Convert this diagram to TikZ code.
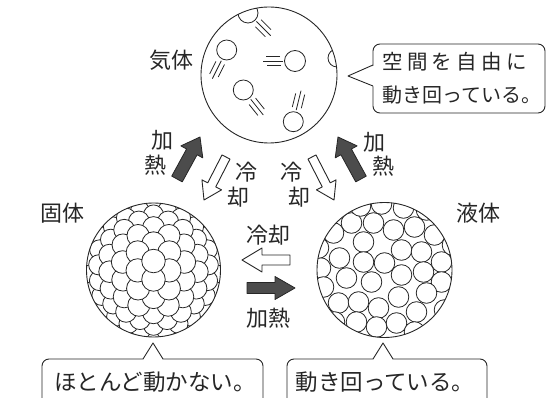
\documentclass[tikz,border=0pt]{standalone}
\usepackage{fontspec}
\setmainfont{Noto Sans CJK JP}
\begin{document}
\begin{tikzpicture}[x=1pt,y=-1pt,line join=round,
  ink/.style={draw=black!85,line width=0.9},
  ball/.style={ink,fill=white,line width=0.8},
  phase/.style={circle,ink,inner sep=0,minimum size=#1},
  lbl/.style={font=\fontsize{22}{22}\selectfont,text=black!85,inner sep=0},
  say/.style={font=\fontsize{22.5}{22.5}\selectfont,text=black!85,inner sep=0},
  heat/.style={fill=black!70,draw=black!85,line width=0.8},
  cool/.style={fill=white,draw=black!85,line width=0.9},
  speed/.style={draw=black!85,line width=0.8},
  pics/blockarrow/.style n args={4}{code={
    \path[pic actions] (0,-#2) -- ({#1-#4},-#2) -- ({#1-#4},-#3) -- (#1,0)
      -- ({#1-#4},#3) -- ({#1-#4},#2) -- (0,#2) -- cycle;}}]
\useasboundingbox (0,0) rectangle (550,398);

% ---------- gas ----------
\begin{scope}
  \clip (269,75) circle (68);
  \foreach \cx/\cy/\r in {248/13/10, 226.7/50/10, 295/61/10.5, 243.3/90/10, 293.3/121.7/10, 337/58/9}
    \filldraw[ball] (\cx,\cy) circle (\r);
  % speed lines trailing each molecule
  \foreach \cx/\cy/\a in {248/13/-45, 226.7/50/-116.6, 295/61/180, 243.3/90/-51.3, 293.3/121.7/76}{
    \begin{scope}[shift={(\cx,\cy)},rotate=\a]
      \draw[speed] (14,-4.5) -- (28,-4.5);
      \draw[speed] (12,0) -- (32,0);
      \draw[speed] (15,4.5) -- (29,4.5);
    \end{scope}}
\end{scope}
\node[phase=136] (gas) at (269,75) {};

% ---------- solid: close-packed balls on a sphere ----------
\begin{scope}
  \clip (153.5,270) circle (67);
  \foreach \n in {40,39,...,0}{
    \foreach \i in {-8,...,8}{
      \foreach \j in {-8,...,8}{
        \ifnum\numexpr\i*\i+\i*\j+\j*\j\relax=\n\relax
          \pgfmathsetmacro\ph{18.5*sqrt(\n)/67*57.29578}
          \pgfmathsetmacro\sfac{sin(\ph)/sqrt(max(\n,1))}
          \pgfmathsetmacro\bx{\sfac*(\j*0.8660254)}
          \pgfmathsetmacro\by{\sfac*(\i+\j/2)}
          \pgfmathsetmacro\bz{cos(\ph)}
          \pgfmathsetmacro\byp{\by*cos(7.7)-\bz*sin(7.7)}
          \pgfmathsetmacro\bzp{\by*sin(7.7)+\bz*cos(7.7)}
          \ifdim\bzp pt>-0.2pt
            \filldraw[ball] ({153.5+67*\bx},{270+67*\byp}) circle ({7.8+4*\bzp});
          \fi
        \fi}}}
\end{scope}
\node[phase=134] (solid) at (153.5,270) {};

% ---------- liquid ----------
\begin{scope}
  \clip (384.5,270) circle (67.5);
  \foreach \dx/\dy in {-33/-47,-11/-47,9/-40,30/-43,50/-35,-21/-28,17/-20,37/-18,
      57/-8,-45/-12,-21/-8,0/-7,-64/-2,-38/8,-13/12,17/5,39/2,57/12,-46/33,
      -26/32,-6/38,14/27,42/23,32/42,12/53,-8/57,-28/52,60/40,-61/17,
      -24/-64,-3/-66,19/-62,42/-60,-51/-37,-66/-22,-50/52,30/62,68/-25}
    \filldraw[ball] ({384.5+\dx},{270+\dy}) circle (10.3);
\end{scope}
\node[phase=135] (liquid) at (384.5,270) {};

% ---------- phase names ----------
\node[lbl] (tgas) at (171,60) {気体};
\node[lbl] (tsolid) at (63,213) {固体};
\node[lbl] (tliquid) at (478,213) {液体};

% ---------- heating / cooling arrows ----------
\pic[heat,rotate=61.3] (hl) at (177,179) {blockarrow={47.9}{6}{12.5}{17}};
\pic[heat,rotate=118.7] (hr) at (361,179) {blockarrow={47.9}{6}{12.5}{17}};
\pic[cool,rotate=-117.1] (cl) at (226,157) {blockarrow={48.3}{4.5}{11}{17}};
\pic[cool,rotate=-62.9] (cr) at (312,157) {blockarrow={48.3}{4.5}{11}{17}};
\pic[cool,rotate=180] (cm) at (290,260) {blockarrow={48}{5}{12}{20}};
\pic[heat] (hm) at (247,288) {blockarrow={48}{5.5}{11.5}{20}};

\node[lbl] (hl1) at (162,140) {加};
\node[lbl] (hl2) at (155,165) {熱};
\node[lbl] (hr1) at (374,142) {加};
\node[lbl] (hr2) at (383,166) {熱};
\node[lbl] (cl1) at (246,172) {冷};
\node[lbl] (cl2) at (238,197) {却};
\node[lbl] (cr1) at (291,172) {冷};
\node[lbl] (cr2) at (299,197) {却};
\node[lbl] (cm1) at (268,235) {冷却};
\node[lbl] (hm1) at (268,318) {加熱};

% ---------- speech bubbles ----------
\draw[ink,rounded corners=7] (373,44) rectangle (545,113);
\fill[white] (374.2,65.5) -- (348.6,76) -- (374.2,86.5) -- cycle;
\draw[ink] (373,65) -- (348,76) -- (373,86);
\node[say,anchor=west,font=\fontsize{20.5}{20.5}\selectfont] (g1) at (382,62)
  {\makebox[145pt][s]{空\hfil 間\hfil を\hfil 自\hfil 由\hfil に}};
\node[say,anchor=west,font=\fontsize{20}{20}\selectfont] (g2) at (382,95) {動き回っている。};

\begin{scope}
  \clip (0,0) rectangle (550,398);
  \draw[ink,rounded corners=7] (42,359) rectangle (263,412);
  \fill[white] (143,360.2) -- (153,343.6) -- (163,360.2) -- cycle;
  \draw[ink] (143,359) -- (153,343) -- (163,359);
  \draw[ink,rounded corners=7] (287,359) rectangle (487,412);
  \fill[white] (373,360.2) -- (383,343.6) -- (393,360.2) -- cycle;
  \draw[ink] (373,359) -- (383,343) -- (393,359);
\end{scope}
\node[say] (s1) at (155,382) {ほとんど動かない。};
\node[say] (l1) at (385,382) {動き回っている。};
\end{tikzpicture}
\end{document}
